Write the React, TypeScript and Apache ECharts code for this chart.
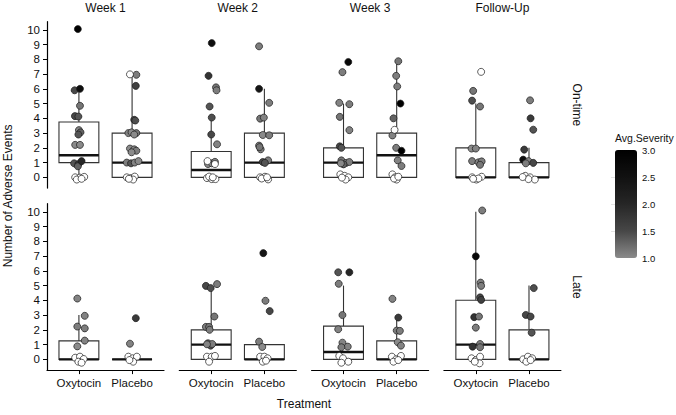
import React, { useEffect, useRef } from 'react';
import * as echarts from 'echarts';

const weeks = ['Week 1', 'Week 2', 'Week 3', 'Follow-Up'];
const timings = ['On-time', 'Late'];
const treatments = ['Oxytocin', 'Placebo'];
const yTicks = [0, 1, 2, 3, 4, 5, 6, 7, 8, 9, 10];
const severityTicks = [1, 1.5, 2, 2.5, 3];
const severityColors = ['#8a8a8a', '#474747', '#262626', '#111111', '#000000'];

// box stats: [lower whisker, q1, median, q3, upper whisker] per week, [Oxytocin, Placebo]
const boxOnTime = [
  [[0, 1, 1.5, 3.75, 5.9], [0, 0, 1, 3, 7]],
  [[0, 0, 0.5, 1.75, 4.05], [0, 0, 1, 3, 6]],
  [[0, 0, 1, 2, 5], [0, 0, 1.5, 3, 7.9]],
  [[0, 0, 0, 2, 5], [0, 0, 0, 1, 2]],
];
const boxLate = [
  [[0, 0, 0, 1.25, 3], [0, 0, 0, 0, 0]],
  [[0, 0, 1, 2, 4.85], [0, 0, 0, 1, 1]],
  [[0, 0, 0.5, 2.25, 5], [0, 0, 0, 1.25, 2.85]],
  [[0, 0, 1, 4, 10], [0, 0, 0, 2, 5]],
];

// points: [jitter x, events (jittered), avg severity or null]
const ptsOnTimeW1Oxy = [[-0.02, 10.05, 3.0], [-0.08, 5.9, 1.5], [0.02, 6.0, 2.6], [0.02, 4.85, 1.15], [-0.075, 4.15, 1.5], [-0.01, 4.12, 1.4], [0, 3.2, 1.05], [0.03, 3.05, 1.3], [-0.01, 2.9, 1.4], [-0.07, 2.2, 1.0], [0.02, 2.2, 1.0], [-0.09, 0.95, 1.4], [-0.01, 0.9, 1.7], [-0.02, 0.75, 1.3], [0.05, 1.1, 2.0], [-0.07, 0, null], [0.02, -0.02, null], [0.1, 0.03, null], [-0.04, -0.15, null], [0.05, -0.1, null]];
const ptsOnTimeW1Pla = [[-0.04, 6.98, null], [0.08, 6.95, 1.1], [0.07, 6.2, 1.6], [0.04, 3.9, 1.5], [0.06, 3.85, 1.45], [-0.07, 3.0, 1.05], [-0.01, 3.05, 1.0], [0.08, 3.0, 1.15], [0.04, 2.9, 1.0], [-0.04, 1.95, 1.0], [0.04, 1.9, 1.05], [0.08, 1.8, 1.1], [-0.01, 1.7, 1.0], [-0.1, 1.0, 1.1], [-0.02, 0.95, 1.4], [0.05, 1.0, 1.05], [0.12, 1.1, 1.0], [-0.1, 0, null], [-0.02, -0.05, null], [0.05, 0.05, null], [0.02, -0.15, null], [-0.06, -0.1, null]];
const ptsOnTimeW2Oxy = [[0.01, 9.1, 2.6], [-0.05, 6.88, 1.8], [0.09, 6.1, 1.15], [0.1, 5.9, 1.1], [-0.03, 4.8, 1.4], [0.01, 4.05, 1.45], [0, 2.9, 1.5], [0.11, 2.24, 1.05], [-0.06, 0.9, 1.0], [0.01, 0.95, 1.0], [0.07, 1.05, 1.05], [0.07, 0.9, null], [-0.07, 1.1, null], [-0.08, -0.05, null], [0.01, -0.12, null], [0.08, -0.12, null], [-0.04, 0.05, null], [0.03, 0, null]];
const ptsOnTimeW2Pla = [[-0.1, 8.88, 1.1], [-0.1, 6.0, 2.4], [0.09, 5.05, 1.1], [-0.08, 3.98, 1.15], [-0.01, 4.05, 1.05], [-0.03, 2.87, 1.0], [0.09, 2.85, 1.1], [-0.1, 2.15, 1.05], [-0.07, 1.9, 1.1], [-0.09, 2.05, 1.15], [-0.03, 1.04, 1.5], [0.07, 1.15, 1.1], [0.01, 0.98, 1.4], [-0.08, 0, null], [0.01, 0.04, null], [0.07, -0.14, null], [-0.05, -0.08, null], [0.05, 0, null]];
const ptsOnTimeW3Oxy = [[0.09, 7.82, 2.8], [-0.02, 7.13, 1.1], [-0.08, 5.05, 1.05], [0.11, 4.96, 1.1], [-0.07, 4.1, 1.15], [0.11, 3.2, 1.05], [-0.07, 2.1, 1.5], [-0.04, 2.0, 1.4], [-0.04, 1.15, 1.15], [0.05, 0.98, 1.05], [0.11, 1.04, 1.1], [0, 0.88, 1.3], [-0.05, 0.95, 1.0], [-0.06, 0.2, null], [0.02, 0.1, null], [0.09, 0, null], [0.04, -0.15, null], [-0.03, -0.02, null]];
const ptsOnTimeW3Pla = [[0.03, 7.87, 1.15], [-0.01, 6.88, 1.1], [0.01, 6.16, 1.1], [0.07, 5.0, 3.0], [-0.06, 4.0, 1.3], [-0.04, 3.22, null], [-0.08, 2.84, 1.05], [-0.01, 2.0, 1.1], [0.09, 1.8, 3.0], [0.02, 1.15, 1.05], [0.09, 0.77, 1.1], [-0.08, 0.2, null], [-0.03, 0, null], [0, -0.15, null], [-0.05, -0.08, null], [0.03, 0.04, null]];
const ptsOnTimeFUOxy = [[0.1, 7.15, null], [-0.05, 5.86, 1.15], [-0.07, 5.2, 1.45], [0.08, 4.8, 1.15], [-0.08, 1.95, 1.0], [0, 1.95, 1.05], [-0.07, 1.1, 1.1], [0.05, 1.02, 1.05], [0.11, 1.08, 1.1], [0.08, 0.85, 1.15], [-0.07, 0, null], [0.01, -0.15, null], [0.11, 0.04, null], [0.05, -0.08, null], [-0.05, -0.1, null]];
const ptsOnTimeFUPla = [[0.02, 5.22, 1.1], [0.03, 4.0, 1.7], [0.08, 3.23, 1.4], [-0.09, 1.88, 1.7], [-0.11, 1.2, 2.6], [-0.01, 1.1, 1.05], [0.08, 0.98, 1.5], [-0.06, 0.95, 1.1], [-0.07, 0.1, null], [0.02, 0, null], [0.11, -0.15, null], [-0.01, -0.12, null], [-0.12, 0.02, null]];

const ptsLateW1Oxy = [[-0.03, 4.12, 1.05], [0.11, 2.95, 1.05], [-0.03, 2.22, 1.1], [0.11, 2.1, 1.1], [0.11, 1.27, 1.05], [-0.03, 0.88, 1.0], [-0.07, 0.11, null], [0.02, 0.18, null], [0.09, 0.02, null], [-0.01, -0.16, null], [0.05, -0.23, null]];
const ptsLateW1Pla = [[0.07, 2.79, 1.7], [-0.04, 1.06, 1.05], [-0.07, 0.18, null], [0.01, 0.07, null], [0.09, 0.18, null], [0.02, -0.16, null], [-0.05, -0.05, null]];
const ptsLateW2Oxy = [[-0.1, 4.98, 1.5], [-0.01, 4.83, 1.45], [0.11, 5.1, 1.1], [0.06, 2.9, 1.15], [-0.1, 2.2, 1.1], [-0.04, 2.2, 1.15], [-0.03, 2.0, 1.1], [-0.06, 1.09, 1.3], [-0.01, 0.93, 1.4], [0.02, 1.04, 1.1], [-0.08, 1.02, 1.05], [-0.08, 0.18, null], [0.01, 0.18, null], [0.07, 0.23, null], [-0.04, -0.16, null]];
const ptsLateW2Pla = [[-0.02, 7.2, 2.4], [0.02, 3.97, 1.1], [0.1, 3.27, 1.5], [-0.1, 1.2, 1.1], [-0.04, 0.84, 1.0], [-0.08, 0.18, null], [0, 0.18, null], [0.06, 0.07, null], [-0.03, -0.16, null], [0.03, -0.09, null]];
const ptsLateW3Oxy = [[-0.1, 5.9, 1.4], [0.11, 5.9, 2.0], [-0.09, 5.12, 1.1], [-0.02, 3.0, 1.15], [-0.1, 2.04, 1.05], [-0.02, 1.13, 1.05], [0.08, 0.86, 1.05], [-0.04, 0.82, 1.1], [-0.08, 0.23, null], [-0.01, 0.07, null], [0.09, -0.16, null], [-0.04, -0.23, null]];
const ptsLateW3Pla = [[-0.08, 4.1, 1.05], [0.03, 2.83, 1.7], [0, 1.95, 1.1], [0.06, 1.93, 1.1], [0.02, 1.16, 1.0], [0.08, 0.93, 1.05], [-0.09, 0.18, null], [-0.01, 0, null], [0.08, 0.23, null], [-0.06, -0.16, null], [0.03, -0.05, null]];
const ptsLateFUOxy = [[0.12, 10.09, 1.1], [0, 6.98, 2.8], [0.09, 5.2, 1.1], [0.1, 4.98, 1.1], [0.08, 4.2, 1.5], [0.1, 4.03, 1.6], [-0.03, 2.86, 1.8], [0.06, 2.9, 1.15], [0, 2.15, 1.1], [-0.06, 0.86, 1.8], [0.08, 1.04, 1.1], [0.08, 0.82, 1.15], [-0.08, 0.07, null], [0, -0.05, null], [0.08, 0.18, null], [0.07, -0.27, null], [-0.02, -0.16, null]];
const ptsLateFUPla = [[0.09, 4.83, 1.45], [-0.06, 3.01, 1.5], [0.03, 2.9, 1.5], [0.05, 1.81, 1.4], [-0.11, 0, null], [-0.02, 0.18, null], [0.06, 0.07, null], [-0.05, -0.16, null], [0.03, -0.05, null]];

const pointsOnTime = [
  [ptsOnTimeW1Oxy, ptsOnTimeW1Pla],
  [ptsOnTimeW2Oxy, ptsOnTimeW2Pla],
  [ptsOnTimeW3Oxy, ptsOnTimeW3Pla],
  [ptsOnTimeFUOxy, ptsOnTimeFUPla],
];
const pointsLate = [
  [ptsLateW1Oxy, ptsLateW1Pla],
  [ptsLateW2Oxy, ptsLateW2Pla],
  [ptsLateW3Oxy, ptsLateW3Pla],
  [ptsLateFUOxy, ptsLateFUPla],
];

const FONT = 'Liberation Sans, Arial, Helvetica, sans-serif';
const W = 676;
const H = 415;
const COL_LEFT0 = 47;
const COL_STEP = 132.3;
const PANEL_W = 117;
const ROW_TOP = [21.7, 203.7];
const PANEL_H = 166.4;
const Y_MIN = -0.73;
const Y_MAX = 10.55;
const BOX_HALF = 0.375;

function buildOption() {
  const grids: any[] = [];
  const xAxes: any[] = [];
  const yAxes: any[] = [];
  const series: any[] = [];
  const coloredIdx: number[] = [];
  const graphics: any[] = [];

  const boxes = [boxOnTime, boxLate];
  const pts = [pointsOnTime, pointsLate];

  for (let r = 0; r < 2; r++) {
    for (let c = 0; c < 4; c++) {
      const g = r * 4 + c;
      const left = COL_LEFT0 + c * COL_STEP;
      grids.push({ left, top: ROW_TOP[r], width: PANEL_W, height: PANEL_H, containLabel: false });
      xAxes.push({
        type: 'value',
        gridIndex: g,
        min: 0.4,
        max: 2.6,
        show: r === 1,
        axisLine: { show: true, onZero: false, lineStyle: { color: '#000', width: 1.2 } },
        axisTick: { show: true, length: 4, customValues: [1, 2], lineStyle: { color: '#000', width: 1 } },
        axisLabel: {
          show: true,
          customValues: [1, 2],
          formatter: (v: number) => treatments[Math.round(v) - 1] || '',
          fontFamily: FONT,
          fontSize: 11.5,
          color: '#111',
          margin: 7,
        },
        splitLine: { show: false },
      });
      yAxes.push({
        type: 'value',
        gridIndex: g,
        min: Y_MIN,
        max: Y_MAX,
        show: c === 0,
        axisLine: { show: true, onZero: false, lineStyle: { color: '#000', width: 1.2 } },
        axisTick: { show: true, length: 4, customValues: yTicks, lineStyle: { color: '#000', width: 1 } },
        axisLabel: {
          show: true,
          customValues: yTicks,
          fontFamily: FONT,
          fontSize: 11.5,
          color: '#111',
          margin: 7,
        },
        splitLine: { show: false },
      });

      const boxData = boxes[r][c].map((b, t) => [t + 1, ...b]);
      series.push({
        type: 'custom',
        xAxisIndex: g,
        yAxisIndex: g,
        clip: false,
        encode: { x: 0, y: [1, 2, 3, 4, 5] },
        data: boxData,
        renderItem: (params: any, api: any) => {
          const x = api.value(0);
          const lo = api.value(1);
          const q1 = api.value(2);
          const med = api.value(3);
          const q3 = api.value(4);
          const hi = api.value(5);
          const pLo = api.coord([x, lo]);
          const pHi = api.coord([x, hi]);
          const pQ1 = api.coord([x, q1]);
          const pQ3 = api.coord([x, q3]);
          const pTL = api.coord([x - BOX_HALF, q3]);
          const pBR = api.coord([x + BOX_HALF, q1]);
          const pML = api.coord([x - BOX_HALF, med]);
          const pMR = api.coord([x + BOX_HALF, med]);
          const stroke = '#333';
          return {
            type: 'group',
            children: [
              { type: 'line', shape: { x1: pQ3[0], y1: pQ3[1], x2: pHi[0], y2: pHi[1] }, style: { stroke, lineWidth: 1.1 } },
              { type: 'line', shape: { x1: pQ1[0], y1: pQ1[1], x2: pLo[0], y2: pLo[1] }, style: { stroke, lineWidth: 1.1 } },
              {
                type: 'rect',
                shape: { x: pTL[0], y: pTL[1], width: pBR[0] - pTL[0], height: pBR[1] - pTL[1] },
                style: { fill: '#fff', stroke, lineWidth: 1.1 },
              },
              { type: 'line', shape: { x1: pML[0], y1: pML[1], x2: pMR[0], y2: pMR[1] }, style: { stroke: '#111', lineWidth: 2.4 } },
            ],
          };
        },
        z: 2,
      });

      const colored: any[] = [];
      const white: any[] = [];
      pts[r][c].forEach((list, t) => {
        list.forEach((p: any) => {
          if (p[2] === null) white.push([t + 1 + p[0], p[1]]);
          else colored.push([t + 1 + p[0], p[1], p[2]]);
        });
      });
      coloredIdx.push(series.length);
      series.push({
        type: 'scatter',
        xAxisIndex: g,
        yAxisIndex: g,
        symbol: 'circle',
        symbolSize: 7,
        data: colored,
        itemStyle: { borderColor: '#1a1a1a', borderWidth: 0.7, opacity: 1 },
        emphasis: { disabled: true },
        z: 3,
      });
      series.push({
        type: 'scatter',
        xAxisIndex: g,
        yAxisIndex: g,
        symbol: 'circle',
        symbolSize: 7,
        data: white,
        itemStyle: { color: '#ffffff', borderColor: '#1a1a1a', borderWidth: 0.7, opacity: 1 },
        emphasis: { disabled: true },
        z: 3,
      });
    }
  }

  // colour-bar label axis
  const cbLeft = 615;
  const cbTop = 150;
  const cbW = 22;
  const cbH = 108;
  grids.push({ left: cbLeft, top: cbTop, width: cbW, height: cbH });
  xAxes.push({ type: 'value', gridIndex: 8, show: false, min: 0, max: 1 });
  yAxes.push({
    type: 'value',
    gridIndex: 8,
    min: 1,
    max: 3,
    position: 'right',
    z: 10,
    axisLine: { show: false },
    axisTick: { show: true, inside: true, length: 4, customValues: severityTicks.slice(1, -1), lineStyle: { color: '#ddd', width: 0.8 } },
    axisLabel: {
      customValues: severityTicks,
      formatter: (v: number) => v.toFixed(1),
      fontFamily: FONT,
      fontSize: 9.5,
      color: '#111',
      margin: 5,
    },
    splitLine: { show: false },
  });

  const textStyle = (text: string, size: number, extra: any = {}) => ({
    text,
    fill: '#111',
    font: `${size}px ${FONT}`,
    fontSize: size,
    fontFamily: FONT,
    align: 'center',
    verticalAlign: 'middle',
    textAlign: 'center',
    textVerticalAlign: 'middle',
    ...extra,
  });

  weeks.forEach((w, c) => {
    graphics.push({ type: 'text', x: COL_LEFT0 + c * COL_STEP + PANEL_W / 2, y: 8, style: textStyle(w, 12) });
  });
  timings.forEach((t, r) => {
    graphics.push({ type: 'text', x: 577, y: ROW_TOP[r] + PANEL_H / 2, rotation: -Math.PI / 2, style: textStyle(t, 12) });
  });
  graphics.push({
    type: 'text',
    x: 8,
    y: (ROW_TOP[0] + ROW_TOP[1] + PANEL_H) / 2,
    rotation: Math.PI / 2,
    style: textStyle('Number of Adverse Events', 12),
  });
  graphics.push({
    type: 'text',
    x: COL_LEFT0 + (3 * COL_STEP + PANEL_W) / 2,
    y: 404,
    style: textStyle('Treatment', 12),
  });
  graphics.push({
    type: 'text',
    x: 615,
    y: 138,
    style: textStyle('Avg.Severity', 10.5, { align: 'left', textAlign: 'left' }),
  });

  return {
    animation: false,
    backgroundColor: '#ffffff',
    grid: grids,
    xAxis: xAxes,
    yAxis: yAxes,
    series,
    visualMap: [
      {
        type: 'continuous',
        min: 1,
        max: 3,
        dimension: 2,
        seriesIndex: coloredIdx,
        inRange: { color: severityColors },
        left: cbLeft,
        top: cbTop,
        itemWidth: cbW,
        itemHeight: cbH,
        padding: 0,
        calculable: false,
        hoverLink: false,
        orient: 'vertical',
        showLabel: false,
      },
    ],
    graphic: graphics,
  };
}

export default function App() {
  const ref = useRef<HTMLDivElement>(null);
  useEffect(() => {
    if (!ref.current) return;
    const chart = echarts.init(ref.current, undefined, { renderer: 'svg', width: W, height: H });
    chart.setOption(buildOption() as any);
    return () => chart.dispose();
  }, []);
  return (
    <div
      ref={ref}
      style={{ position: 'fixed', left: 0, top: 0, width: W, height: H, background: '#fff' }}
    />
  );
}
